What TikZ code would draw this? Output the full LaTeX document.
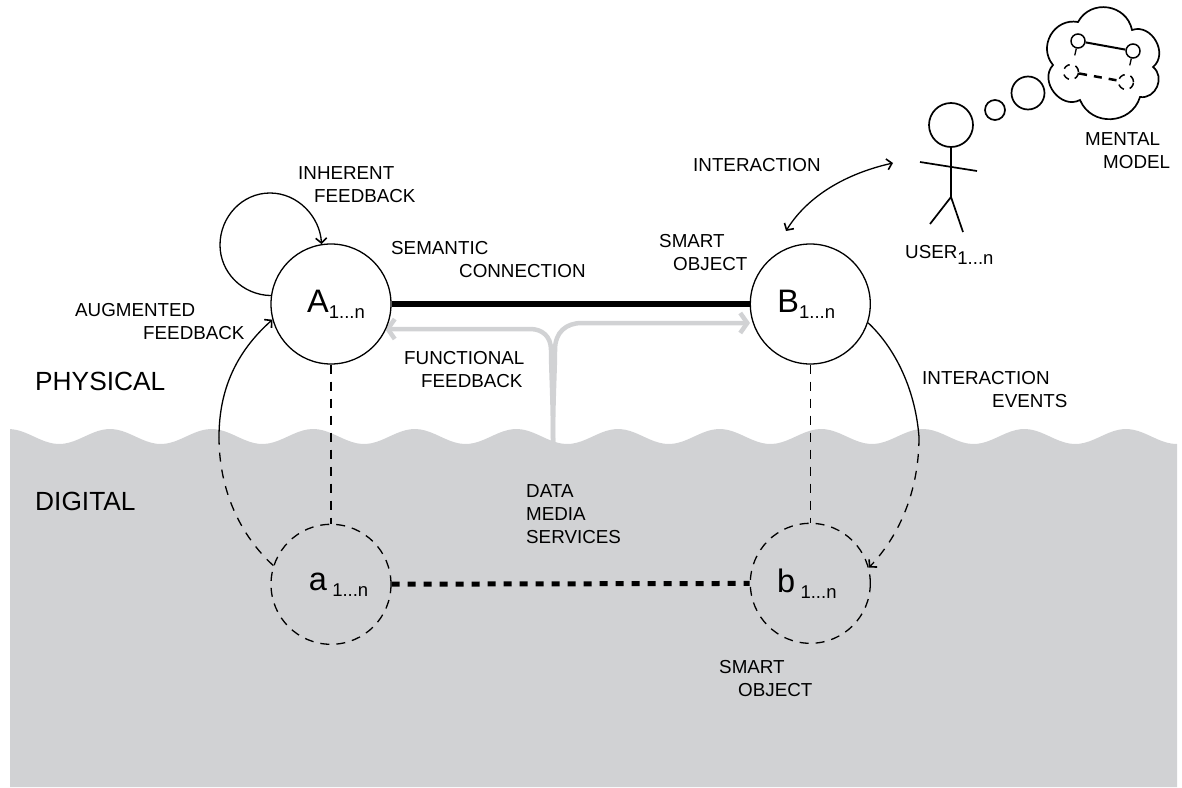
\documentclass[tikz,border=0pt]{standalone}
\usepackage{fontspec}
\setmainfont{Liberation Sans}
\usepackage{xcolor}
\usepackage{tikz}
\usetikzlibrary{positioning, arrows.meta}
\definecolor{digitalgray}{HTML}{D1D2D4}
\newcommand{\idx}{\raisebox{-6pt}{\fontsize{18.5}{18.5}\selectfont 1...n}}
\tikzset{
    lab/.style={anchor=base west, align=left, inner sep=0pt, font=\fontsize{18.8}{22.6}\selectfont},
    world/.style={anchor=base west, inner sep=0pt, font=\fontsize{26.3}{30}\selectfont},
    obj/.style={circle, draw, minimum size=120pt, inner sep=0pt, line width=1.3pt, font=\fontsize{32.5}{36}\selectfont},
    objreal/.style={obj, fill=white},
    objdig/.style={obj, dash pattern=on 9pt off 7pt},
    link/.style={line width=1.3pt},
    linkdash/.style={line width=1.3pt, dash pattern=on 9pt off 8pt},
    fb/.style={line width=1.3pt, -{Straight Barb[length=5pt,width=11pt,line width=1.6pt]}},
    graylink/.style={draw=digitalgray, line width=4.5pt},
    grayarrow/.style={graylink, -{Straight Barb[length=7pt,width=20pt]}},
    stick/.style={line width=1.7pt},
    mini/.style={circle, draw, fill=white, minimum size=14pt, inner sep=0pt, line width=1.5pt},
    minidash/.style={circle, draw, minimum size=15pt, inner sep=0pt, line width=1.5pt, dash pattern=on 7pt off 6pt}
}

\begin{document}
\begin{tikzpicture}[x=1pt, y=-1pt]
    \useasboundingbox (0,0) rectangle (1182,787);

    \fill[digitalgray] (10,787) -- plot[domain=10:1177, samples=240] (\x,{436.5-7.5*cos(3.5433*(\x-110))}) -- (1177,787) -- cycle;

    \coordinate (datasrc) at (553,443);
    \draw[grayarrow] (datasrc) .. controls (553,400) and (551,370) .. (551,350) .. controls (551,336) and (542,329) .. (530,329) -- (385,329);
    \draw[grayarrow] (datasrc) .. controls (553,400) and (555,370) .. (555,350) .. controls (555,332) and (566,323) .. (582,323) -- (750,323);

    \node[objreal] (A) at (331,304) {\hspace*{10pt}A\idx};
    \node[objreal, right=358pt of A] (B) {\hspace*{-8pt}B\idx};
    \node[objdig, below=159pt of A] (a) {\hspace*{15pt}a\,\idx};
    \node[objdig, below=158pt of B] (b) {\hspace*{-7pt}b\,\idx};

    \draw[line width=5.5pt] (A) -- (B);
    \draw[line width=5pt, dash pattern=on 8pt off 8pt] (a) -- (b);
    \draw[linkdash] (A) -- (a);
    \draw[linkdash] (B) -- (b);

    \draw[fb] (A.172) .. controls (242,295) and (220,272) .. (220,245) .. controls (220,217) and (242,193) .. (270,193) .. controls (298,193) and (320,217) .. (A.99);

    \coordinate (augmid) at (219,437);
    \draw[linkdash] (a.162) .. controls (240,535) and (219,490) .. (augmid);
    \draw[fb] (augmid) .. controls (219,390) and (236,352) .. (A.195);

    \coordinate (evmid) at (919,437);
    \draw[link] (B.-18) .. controls (892,345) and (915,385) .. (evmid);
    \draw[linkdash, -{Straight Barb[length=5pt,width=11pt,line width=1.6pt]}] (evmid) .. controls (919,490) and (900,535) .. (b.15);

    \coordinate (useredge) at (893,163);
    \coordinate (objedge) at (786,231);
    \draw[link, {Straight Barb[length=5pt,width=11pt,line width=1.6pt]}-{Straight Barb[length=5pt,width=11pt,line width=1.6pt]}] (objedge) .. controls (805,200) and (840,175) .. (useredge);

    \node[circle, draw, stick, minimum size=44pt, inner sep=0pt] (head) at (951,125) {};
    \coordinate (hip) at (951,197);
    \coordinate (handl) at (920,162);
    \coordinate (handr) at (977,171);
    \coordinate (footl) at (930,224);
    \coordinate (footr) at (963,232);
    \draw[stick] (head) -- (hip);
    \draw[stick] (handl) -- (handr);
    \draw[stick] (footl) -- (hip) -- (footr);

    \node[circle, draw, stick, minimum size=20pt, inner sep=0pt] (bubs) at (995,110) {};
    \node[circle, draw, stick, minimum size=33pt, inner sep=0pt] (bubl) at (1028,93) {};

    \draw[stick, looseness=1.25] (1078,22) to[bend left=70] (1132,30) to[bend left=80] (1153,67) to[bend left=75] (1140,97)
        to[bend left=70] (1080,100) to[bend left=80] (1053,65) to[bend left=70] cycle;

    \node[mini] (mp) at (1078,41) {};
    \node[mini] (mq) at (1133,51) {};
    \node[minidash] (mr) at (1071,72) {};
    \node[minidash] (ms) at (1126,82) {};
    \draw[line width=2pt] (mp) -- (mq);
    \draw[line width=2.5pt, dash pattern=on 8pt off 7pt] (mr) -- (ms);
    \draw[line width=1.3pt, dash pattern=on 7pt off 30pt] (mp) -- (mr);
    \draw[line width=1.3pt, dash pattern=on 7pt off 30pt] (mq) -- (ms);

    \node[lab] (inherent) at (298,202) {INHERENT\\\hspace*{16pt}FEEDBACK};
    \node[lab] (semantic) at (391,277) {SEMANTIC\\\hspace*{68pt}CONNECTION};
    \node[lab] (functional) at (404,387) {FUNCTIONAL\\\hspace*{17pt}FEEDBACK};
    \node[lab] (augmented) at (75,339) {AUGMENTED\\\hspace*{68pt}FEEDBACK};
    \node[lab] (interaction) at (693,171) {INTERACTION};
    \node[lab] (smarttop) at (659,270) {SMART\\\hspace*{14pt}OBJECT};
    \node[lab] (events) at (922,407) {INTERACTION\\\hspace*{70pt}EVENTS};
    \node[lab] (data) at (526,543) {DATA\\MEDIA\\SERVICES};
    \node[lab] (smartlow) at (719,696) {SMART\\\hspace*{19pt}OBJECT};
    \node[lab] (user) at (905,258) {USER\idx};
    \node[lab] (mental) at (1085,168) {MENTAL\\\hspace*{18pt}MODEL};
    \node[world] (physical) at (35,390) {PHYSICAL};
    \node[world] (digital) at (35,510) {DIGITAL};
\end{tikzpicture}
\end{document}
